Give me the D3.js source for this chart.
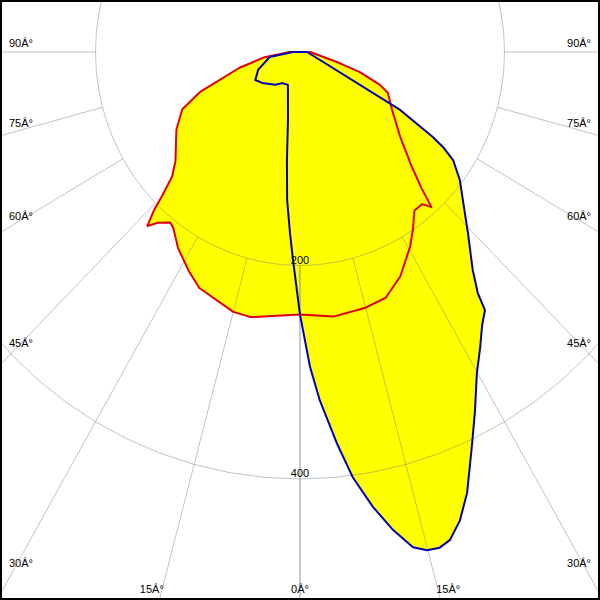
<!DOCTYPE html>
<html>
<head>
<meta charset="utf-8">
<script src="https://cdn.jsdelivr.net/npm/d3@7"></script>
<style>
html,body{margin:0;padding:0;background:#fff;}
svg{display:block;}
text{font-family:"Liberation Sans",Arial,sans-serif;font-size:11px;fill:#000;}
</style>
</head>
<body>
<script>
// ---- data (angle in degrees from nadir, intensity in cd) ----
const redAngles = [-90,-82,-76,-69,-65,-59,-50,-47,-45,-44,-42.5,-41,-38.5,-37,-33,-28,-24,-15,-11,0,7.5,15,20,25,30.5,33.5,37,40,41.5,43,46,51,59,66,68.5,72,75,90];
const redValues = [10,35,61,105,127,141,159,171,191,205,221,212,204,206,219,232,242,252,253,246,250,248,245,232,212,200,186,186,194,174,150,126,105,94,84,62,40,10];

const blueAngles = [-90,-81,-68,-59,-52,-38,-31,-21,-10.4,-7.2,-5.2,-3.3,-2,0,1.9,3.4,5.6,7.4,9.5,11.5,13.4,14.9,16.4,17.8,19.6,21.6,24.7,27,29.9,32.5,34.8,36.8,37.6,39.6,44.1,49,52.5,55.9,57.5,58.5,61,90];
const blueValues = [7,30,44,51,47,39,34,33,65,102,139,170,195,246,295,327,368,402,432,457,477,483,484,480,466,444,403,377,347,328,312,302,285,265,236,211,197,181,166,152,112,7];

const ringValues = [200, 400];
const ringLabels = ["200", "400"];
const spokeAngles = [0, 15, 30, 45, 60, 75, 90];
const spokeLabels = ["0Â°", "15Â°", "30Â°", "45Â°", "60Â°", "75Â°", "90Â°"];

// ---- layout ----
const W = 600, H = 600, cx = 300, cy = 52;
const rx = d3.scaleLinear().domain([0, 400]).range([0, 409]);
const ry = d3.scaleLinear().domain([0, 400]).range([0, 427]);
const rad = d => d * Math.PI / 180;
const px = (a, v) => cx + rx(v) * Math.sin(rad(a));
const py = (a, v) => cy + ry(v) * Math.cos(rad(a));

const svg = d3.select("body").append("svg").attr("width", W).attr("height", H);
svg.append("rect").attr("width", W).attr("height", H).attr("fill", "#fff");

const line = d3.line().x(d => px(d[0], d[1])).y(d => py(d[0], d[1])).curve(d3.curveLinearClosed);
const red = redAngles.map((a, i) => [a, redValues[i]]);
const blue = blueAngles.map((a, i) => [a, blueValues[i]]);

// fills
svg.append("path").attr("d", line(red)).attr("fill", "#ffff00").attr("stroke", "none");
svg.append("path").attr("d", line(blue)).attr("fill", "#ffff00").attr("stroke", "none");

// grid
const grid = svg.append("g").attr("stroke", "#7a7a7a").attr("stroke-opacity", 0.45).attr("fill", "none").attr("stroke-width", 1);
const ringAngles = d3.range(0, 361, 5);
ringValues.forEach(v => {
  grid.append("path").attr("d", d3.line()(ringAngles.map(a => [px(a, v), py(a, v)])));
});
spokeAngles.forEach(a => {
  [a, -a].forEach(s => {
    if (a === 0 && s !== a) return;
    grid.append("line")
      .attr("x1", px(s, ringValues[0])).attr("y1", py(s, ringValues[0]))
      .attr("x2", px(s, 900)).attr("y2", py(s, 900));
  });
});

// curves
svg.append("path").attr("d", line(red)).attr("fill", "none").attr("stroke", "#e00000").attr("stroke-width", 2).attr("stroke-linejoin", "round");
svg.append("path").attr("d", line(blue)).attr("fill", "none").attr("stroke", "#0000b8").attr("stroke-width", 2).attr("stroke-linejoin", "round");

// ring labels
ringValues.forEach((v, i) => {
  svg.append("text").attr("x", px(0, v)).attr("y", py(0, v) - 2).attr("text-anchor", "middle").text(ringLabels[i]);
});

// angle labels: ray from label origin to frame edge
const lox = cx, loy = cy - 5;
spokeAngles.forEach((a, i) => {
  const sides = a === 0 ? [1] : [-1, 1];
  sides.forEach(s => {
    const t = rad(a);
    const dx = Math.sin(t) * s, dy = Math.cos(t);
    const tSide = dx !== 0 ? (dx < 0 ? lox / -dx : (W - lox) / dx) : Infinity;
    const tBot = dy > 1e-9 ? (H - loy) / dy : Infinity;
    const txt = svg.append("text").text(spokeLabels[i]);
    if (tSide <= tBot) {
      const y = loy + dy * tSide;
      if (s < 0) txt.attr("x", 9).attr("y", y).attr("text-anchor", "start");
      else txt.attr("x", W - 9).attr("y", y).attr("text-anchor", "end");
    } else {
      const x = lox + dx * tBot;
      txt.attr("x", x).attr("y", H - 7).attr("text-anchor", "middle");
    }
  });
});

// frame
svg.append("rect").attr("x", 1).attr("y", 1).attr("width", W - 2).attr("height", H - 2)
  .attr("fill", "none").attr("stroke", "#000").attr("stroke-width", 2);
</script>
</body>
</html>
